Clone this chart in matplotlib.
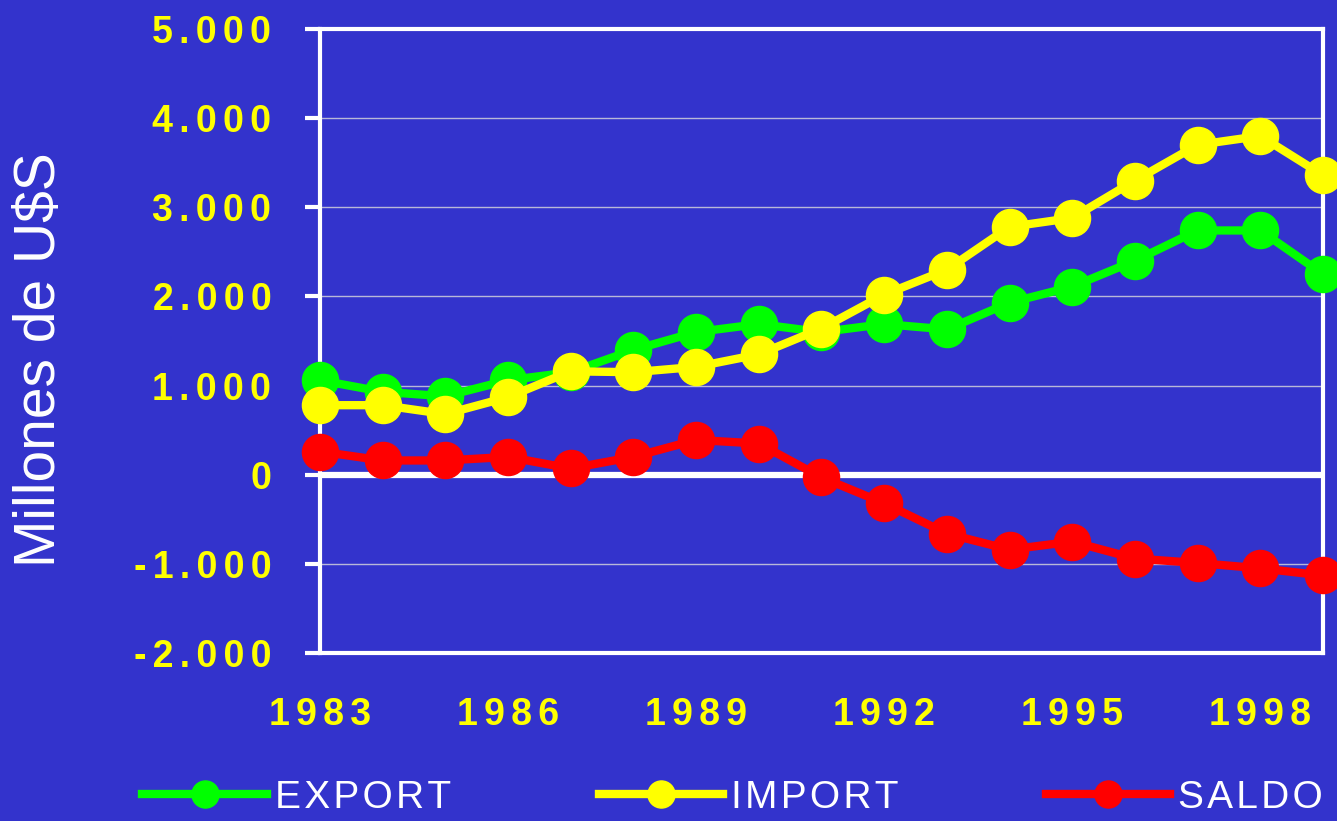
import matplotlib
matplotlib.use("Agg")
import matplotlib.pyplot as plt
from matplotlib.ticker import FixedLocator, FixedFormatter

plt.rcParams['font.family'] = ['Liberation Sans', 'DejaVu Sans']

years = list(range(1983, 2000))
export = [1060, 930, 880, 1060, 1150, 1400, 1600, 1690, 1600, 1690, 1630,
          1930, 2110, 2400, 2740, 2740, 2250]
imports = [780, 780, 680, 870, 1160, 1150, 1210, 1350, 1640, 2020, 2300,
           2780, 2880, 3300, 3700, 3800, 3360]
saldo = [260, 160, 160, 200, 70, 200, 390, 350, -30, -320, -660,
         -840, -750, -940, -990, -1050, -1130]

y_ticks = [-2000, -1000, 0, 1000, 2000, 3000, 4000, 5000]
x_ticks = [1983, 1986, 1989, 1992, 1995, 1998]

bg = '#3333CC'
HS = '\u200a'  # hair space for letter spacing


def spaced(s, n=1):
    return (HS * n).join(s)


def fmt_thousands(v):
    s = f'{abs(v):,}'.replace(',', '.')
    return ('-' if v < 0 else '') + s


fig = plt.figure(figsize=(13.37, 8.21), dpi=100, facecolor=bg)
ax = fig.add_axes([0.2393, 0.2046, 0.7502, 0.7601], facecolor=bg)

ax.set_xlim(1983, 1999)
ax.set_ylim(-2000, 5000)

for v in y_ticks:
    if v != 0:
        ax.axhline(v, color='#B8B8D8', lw=1.0, zorder=1)
ax.axhline(0, color='white', lw=4.5, zorder=2)

ax.plot(years, export, color='#00FF00', lw=6, marker='o', ms=26, label='EXPORT',
        zorder=3, clip_on=False)
ax.plot(years, imports, color='#FFFF00', lw=6, marker='o', ms=26, label='IMPORT',
        zorder=4, clip_on=False)
ax.plot(years, saldo, color='#FF0000', lw=6, marker='o', ms=26, label='SALDO',
        zorder=5, clip_on=False)

for sp in ax.spines.values():
    sp.set_color('white')
    sp.set_linewidth(3)

ax.yaxis.set_major_locator(FixedLocator(y_ticks))
ax.yaxis.set_major_formatter(FixedFormatter([spaced(fmt_thousands(v), 2) for v in y_ticks]))
ax.xaxis.set_major_locator(FixedLocator(x_ticks))
ax.xaxis.set_major_formatter(FixedFormatter([spaced(str(v), 2) for v in x_ticks]))

ax.tick_params(axis='y', colors='white', length=11, width=3, pad=24,
               labelcolor='#FFFF00', labelsize=27)
ax.tick_params(axis='x', length=0, pad=32, labelcolor='#FFFF00', labelsize=27)
for lab in ax.get_xticklabels() + ax.get_yticklabels():
    lab.set_fontweight('bold')

fig.text(0.03, 0.5615, 'Millones de U$S', rotation=90, color='white',
         fontsize=41, ha='center', va='center')

leg = fig.legend(loc='center', bbox_to_anchor=(0.548, 0.028), ncol=3, frameon=False,
                 fontsize=28, handlelength=3.2, handletextpad=0.2, columnspacing=3.8,
                 markerscale=0.75)
for t in leg.get_texts():
    t.set_color('white')
    t.set_text(spaced(t.get_text()))

fig.savefig('out.png', dpi=100, facecolor=bg)
